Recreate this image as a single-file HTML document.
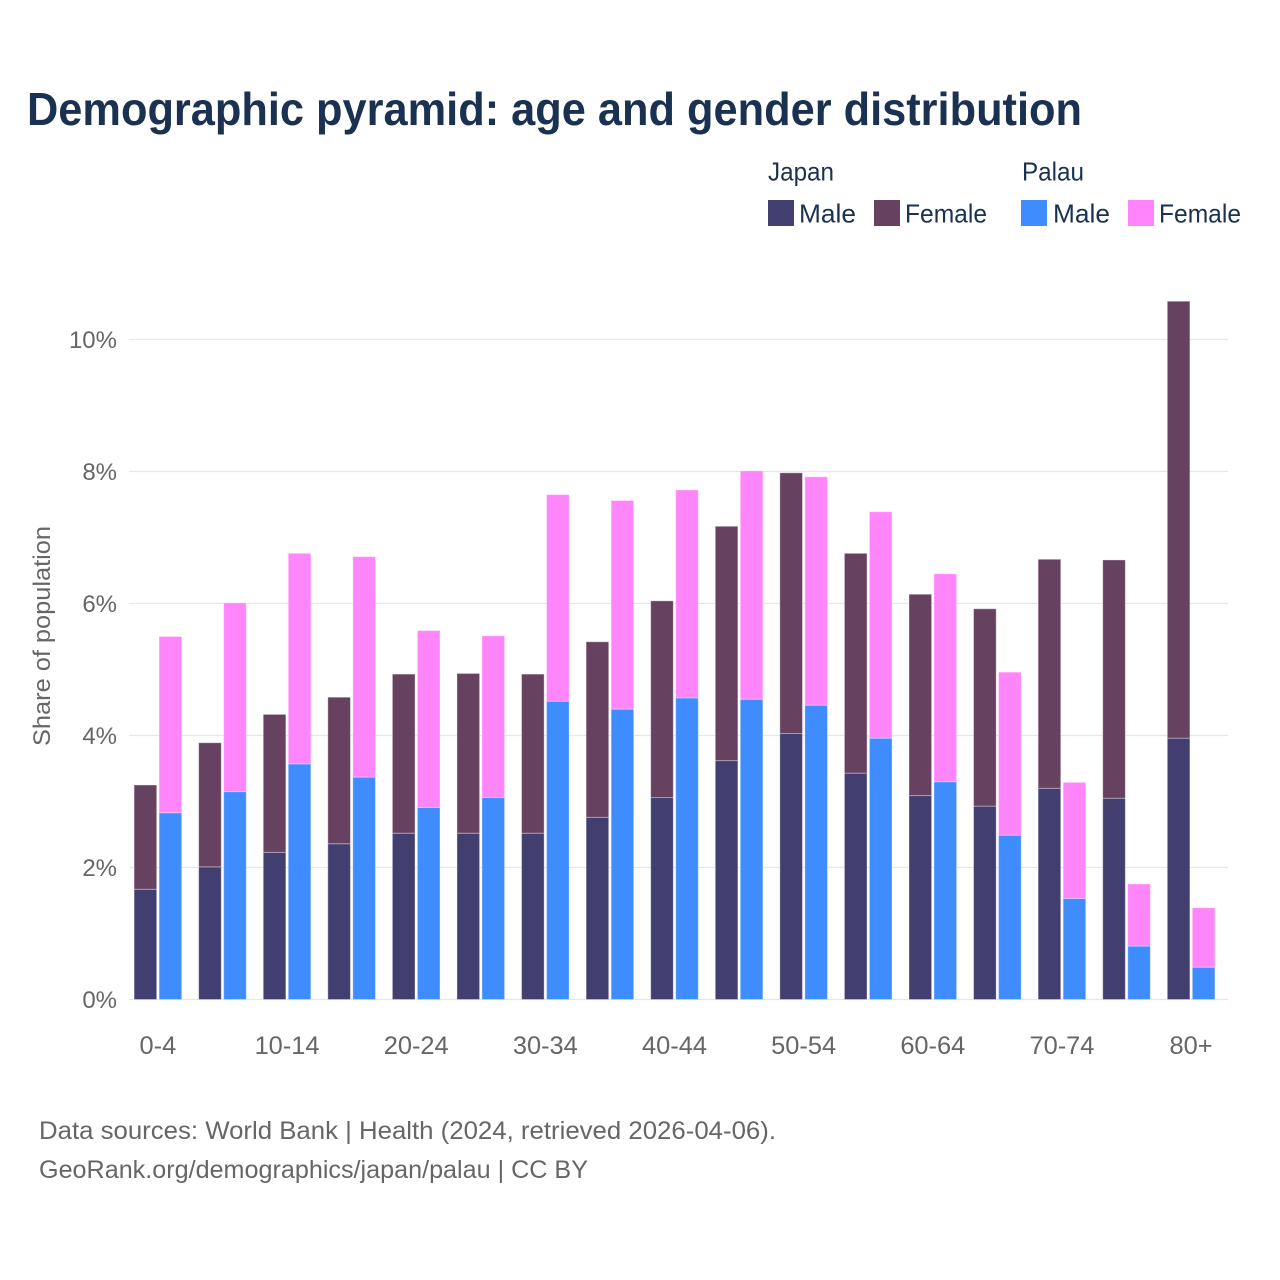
<!DOCTYPE html>
<html lang="en">
<head>
<meta charset="utf-8">
<title>Demographic pyramid</title>
<style>
html,body{margin:0;padding:0;background:#fff}
svg{display:block}
text{font-family:"Liberation Sans",sans-serif}
.title{font-size:46px;font-weight:700;fill:#1a3151}
.legend{font-size:26px;fill:#1a3151}
.tick{font-size:24px;fill:#666}
.xtick{font-size:25.4px;fill:#666}
.foot{font-size:25px;fill:#666}
</style>
</head>
<body>
<svg id="chart" xmlns="http://www.w3.org/2000/svg" width="1280" height="1280" viewBox="0 0 1280 1280">
<rect width="1280" height="1280" fill="#fff"/>
<text class="title" x="27" y="125" textLength="1055" lengthAdjust="spacingAndGlyphs">Demographic pyramid: age and gender distribution</text>
<g>
<text class="legend" x="768" y="180.5" textLength="66" lengthAdjust="spacingAndGlyphs">Japan</text>
<text class="legend" x="1022" y="180.5" textLength="62" lengthAdjust="spacingAndGlyphs">Palau</text>
<rect x="768" y="200" width="26" height="26" fill="#423f70"/>
<text class="legend" x="799" y="222.5" textLength="57" lengthAdjust="spacingAndGlyphs">Male</text>
<rect x="874" y="200" width="26" height="26" fill="#674160"/>
<text class="legend" x="905" y="222.5" textLength="82" lengthAdjust="spacingAndGlyphs">Female</text>
<rect x="1021" y="200" width="26" height="26" fill="#3f8cff"/>
<text class="legend" x="1053" y="222.5" textLength="57" lengthAdjust="spacingAndGlyphs">Male</text>
<rect x="1128" y="200" width="26" height="26" fill="#ff85fa"/>
<text class="legend" x="1159" y="222.5" textLength="82" lengthAdjust="spacingAndGlyphs">Female</text>
</g>
<g id="grid"></g>
<g id="bars"></g>
<g id="yticks"></g>
<g id="xticks"></g>
<text class="tick" transform="translate(50,636) rotate(-90)" text-anchor="middle" textLength="220" lengthAdjust="spacingAndGlyphs">Share of population</text>
<text class="foot" x="39" y="1139" textLength="737" lengthAdjust="spacingAndGlyphs">Data sources: World Bank | Health (2024, retrieved 2026-04-06).</text>
<text class="foot" x="39" y="1178" textLength="549" lengthAdjust="spacingAndGlyphs">GeoRank.org/demographics/japan/palau | CC BY</text>
</svg>
<script>
const categories = ["0-4","5-9","10-14","15-19","20-24","25-29","30-34","35-39","40-44","45-49","50-54","55-59","60-64","65-69","70-74","75-79","80+"];
const xTickLabels = ["0-4","10-14","20-24","30-34","40-44","50-54","60-64","70-74","80+"];
const yTickValues = [0,2,4,6,8,10];
const japanMale = [1.67,2.01,2.23,2.36,2.52,2.52,2.52,2.76,3.06,3.62,4.03,3.43,3.09,2.93,3.20,3.05,3.96];
const japanFemale = [1.58,1.88,2.09,2.22,2.41,2.42,2.41,2.66,2.98,3.55,3.95,3.33,3.05,2.99,3.47,3.61,6.62];
const palauMale = [2.83,3.15,3.57,3.37,2.91,3.06,4.52,4.40,4.57,4.55,4.46,3.96,3.30,2.49,1.53,0.81,0.49];
const palauFemale = [2.67,2.86,3.19,3.34,2.68,2.45,3.13,3.16,3.15,3.46,3.46,3.43,3.15,2.47,1.76,0.94,0.90];

const NS = 'http://www.w3.org/2000/svg';
const plotLeft = 129, plotRight = 1228;
function yScale(v){ return 999.5 - v * 66; }
function xScale(i){ return 157.9 + i * (1191.1 - 157.9) / (categories.length - 1); }
const barW = 22.6, barGap = 1.2;

const gridG = document.getElementById('grid');
const yG = document.getElementById('yticks');
yTickValues.forEach(function(t){
  const l = document.createElementNS(NS,'line');
  l.setAttribute('x1', plotLeft);
  l.setAttribute('x2', plotRight);
  l.setAttribute('y1', yScale(t));
  l.setAttribute('y2', yScale(t));
  l.setAttribute('stroke', '#e6e6e6');
  l.setAttribute('stroke-width', '1.3');
  
  
  gridG.appendChild(l);
  const tx = document.createElementNS(NS,'text');
  tx.setAttribute('class', 'tick');
  tx.setAttribute('x', 117);
  tx.setAttribute('y', yScale(t) + 8.5);
  tx.setAttribute('text-anchor', 'end');
  tx.textContent = t + '%';
  
  
  yG.appendChild(tx);
});

const xG = document.getElementById('xticks');
xTickLabels.forEach(function(lab){
  const i = categories.indexOf(lab);
  const tx = document.createElementNS(NS,'text');
  tx.setAttribute('class', 'xtick');
  tx.setAttribute('x', xScale(i));
  tx.setAttribute('y', 1054);
  tx.setAttribute('text-anchor', 'middle');
  tx.textContent = lab;
  
  
  xG.appendChild(tx);
});

const barsG = document.getElementById('bars');
function drawBar(x, y0, y1, fill){
  const r = document.createElementNS(NS,'rect');
  r.setAttribute('x', x);
  r.setAttribute('y', yScale(y1));
  r.setAttribute('width', barW);
  r.setAttribute('height', yScale(y0) - yScale(y1));
  r.setAttribute('fill', fill);
  r.setAttribute('stroke', 'rgba(255,255,255,0.35)');
  r.setAttribute('stroke-width', '1');
  
  
  barsG.appendChild(r);
}
categories.forEach(function(c, i){
  const cx = xScale(i);
  const leftX = cx - barGap - barW;
  const rightX = cx + barGap;
  drawBar(leftX, 0, japanMale[i], '#423f70');
  drawBar(leftX, japanMale[i], japanMale[i] + japanFemale[i], '#674160');
  drawBar(rightX, 0, palauMale[i], '#3f8cff');
  drawBar(rightX, palauMale[i], palauMale[i] + palauFemale[i], '#ff85fa');
});
</script>
</body>
</html>
